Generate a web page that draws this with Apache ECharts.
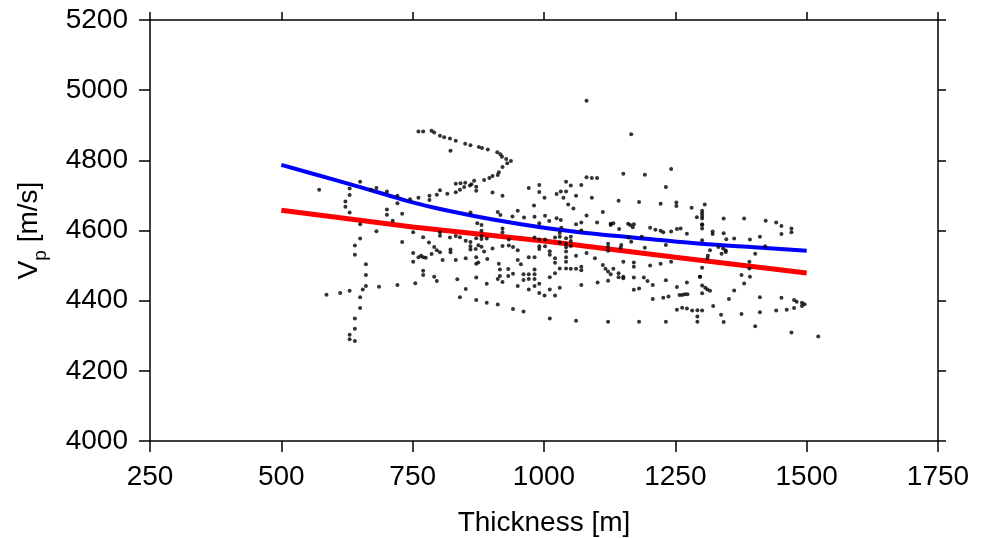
<!DOCTYPE html>
<html>
<head>
<meta charset="utf-8">
<script src="https://cdn.jsdelivr.net/npm/echarts@6/dist/echarts.min.js"></script>
<style>
html,body{margin:0;padding:0;background:#fff;}
#chart{width:986px;height:538px;}
</style>
</head>
<body>
<div id="chart"></div>
<script>
var xTicks = [250, 500, 750, 1000, 1250, 1500, 1750];
var yTicks = [4000, 4200, 4400, 4600, 4800, 5000, 5200];

var blueX = [500, 600, 700, 750, 800, 900, 1000, 1100, 1200, 1300, 1400, 1500];
var blueY = [4787, 4745, 4702, 4680, 4662, 4632, 4608, 4590, 4576, 4562, 4552, 4542];

var redX = [500, 750, 1000, 1250, 1500];
var redY = [4658, 4610, 4570, 4524, 4479];

var wellPoints = [
[572,4716],[650,4739],[630,4720],[671,4716],[681,4721],[701,4711],[721,4699],[721,4678],[745,4689],[761,4693],
[630,4701],[622,4683],[622,4668],[630,4651],[701,4660],[701,4645],[730,4648],[712,4628],[650,4618],[761,4882],
[681,4598],[650,4577],[640,4557],[640,4531],[661,4504],[661,4473],[661,4442],[655,4432],[630,4428],[612,4422],
[586,4417],[686,4440],[721,4445],[755,4450],[650,4410],[650,4379],[640,4349],[640,4320],[630,4303],[630,4290],
[640,4285],[730,4567],[751,4595],[751,4536],[751,4511],[761,4524],
[770,4882],[786,4884],[791,4879],[802,4870],[810,4866],[821,4862],[832,4856],[850,4847],[860,4843],[876,4838],
[882,4835],[893,4831],[911,4823],[917,4817],[920,4810],[928,4804],[937,4798],[930,4792],[921,4781],[914,4766],
[912,4758],[902,4755],[896,4750],[886,4744],[867,4742],[862,4732],[859,4728],[850,4736],[841,4735],[832,4733],
[848,4724],[840,4716],[832,4709],[871,4725],[871,4713],[816,4705],[802,4715],[796,4702],[782,4699],[782,4687],
[822,4827],[902,4708],[921,4699],[971,4721],[991,4730],[991,4710],[1001,4693],[1024,4704],[981,4671],[950,4656],
[912,4653],[917,4644],[860,4651],[873,4621],[940,4640],[962,4637],[982,4639],[1002,4642],[991,4621],[1010,4627],
[1024,4635],
[1081,4970],[1166,4874],[1081,4752],[1091,4750],[1101,4750],[1151,4762],[1192,4759],[1242,4775],[1232,4724],
[1042,4739],[1051,4728],[1071,4730],[1032,4711],[1042,4711],[1037,4693],[1061,4699],[1091,4693],[1046,4674],
[1056,4663],[1112,4653],[1142,4685],[1181,4681],[1222,4676],[1252,4680],[1252,4670],[1281,4665],[1081,4643],
[1032,4630],[1071,4623],[1101,4623],[1127,4619],[1132,4621],[1160,4619],[1171,4618],[1291,4638],[1061,4618],
[1306,4674],[1301,4656],[1301,4649],[1301,4641],[1301,4634],[1301,4618],[1342,4634],[1381,4634],[1422,4628],[1442,4623],
[770,4581],[781,4566],[791,4553],[796,4544],[786,4533],[766,4528],[770,4524],[775,4522],[802,4538],[807,4516],
[822,4546],[822,4538],[832,4516],[851,4521],[860,4555],[860,4546],[870,4547],[875,4558],[881,4554],[886,4540],
[871,4524],[875,4509],[871,4505],[892,4519],[902,4549],[914,4505],[921,4556],[933,4557],[941,4553],[950,4544],
[971,4524],[982,4524],[991,4555],[991,4547],[1002,4555],[1011,4541],[1011,4531],[1021,4521],[1021,4508],[950,4516],
[956,4504],[916,4489],[932,4490],[941,4477],[932,4470],[961,4475],[971,4475],[982,4489],[982,4475],[982,4462],
[971,4462],[961,4459],[991,4448],[982,4442],[971,4432],[991,4422],[1001,4415],[1011,4432],[1021,4415],[1011,4467],
[1021,4478],[950,4442],[921,4453],[912,4462],[916,4470],[891,4448],[871,4466],[851,4433],[840,4410],[835,4461],
[796,4456],[791,4468],[770,4485],[770,4473],[871,4402],[891,4394],[912,4389],[941,4376],[961,4369],[1011,4349],
[802,4595],[802,4585],[832,4584],[840,4581],[821,4580],[851,4571],[860,4567],[871,4578],[881,4584],[881,4576],
[891,4577],[881,4616],[881,4599],[921,4606],[921,4595],[933,4574],[982,4580],[991,4574],[1002,4574],[1021,4580],
[1030,4566],
[1030,4582],[1042,4578],[1051,4570],[1042,4562],[1042,4552],[1042,4540],[1042,4524],[1042,4511],[1042,4492],[1030,4492],
[1051,4491],[1061,4491],[1071,4497],[1071,4487],[1081,4536],[1061,4528],[1097,4521],[1112,4502],[1117,4491],[1122,4483],
[1127,4475],[1132,4491],[1142,4478],[1142,4467],[1151,4468],[1151,4464],[1122,4457],[1102,4452],[1071,4445],[1030,4437],
[1171,4497],[1171,4509],[1151,4511],[1171,4466],[1190,4466],[1197,4456],[1207,4445],[1202,4500],[1222,4505],[1232,4458],
[1242,4511],[1181,4435],[1171,4431],[1207,4405],[1227,4408],[1237,4412],[1258,4416],[1263,4416],[1268,4418],[1273,4418],
[1253,4374],[1263,4380],[1272,4378],[1282,4372],[1292,4373],[1292,4355],[1292,4340],[1061,4343],[1122,4340],[1181,4340],
[1232,4340],[1297,4468],[1272,4452],[1253,4439],[1051,4556],[1051,4582],[1127,4616],[1143,4604],[1164,4616],[1169,4609],
[1202,4608],[1212,4602],[1222,4599],[1227,4595],[1242,4597],[1253,4604],[1260,4606],[1272,4591],[1033,4608],[1071,4600],
[1030,4593],[1166,4568],[1186,4582],[1161,4580],[1147,4559],[1122,4562],[1122,4553],[1122,4542],[1192,4551],[1232,4559],
[1146,4551],
[1301,4616],[1301,4606],[1321,4597],[1321,4590],[1342,4592],[1347,4575],[1362,4577],[1392,4574],[1411,4582],[1452,4613],
[1452,4590],[1471,4606],[1471,4595],[1301,4572],[1316,4544],[1332,4553],[1341,4549],[1346,4543],[1346,4539],[1338,4534],
[1312,4528],[1311,4520],[1421,4555],[1402,4534],[1391,4511],[1391,4492],[1392,4468],[1376,4473],[1381,4449],[1301,4494],
[1297,4468],[1301,4443],[1307,4437],[1311,4432],[1316,4428],[1301,4421],[1362,4429],[1352,4405],[1322,4385],[1301,4372],
[1337,4360],[1342,4339],[1376,4362],[1402,4327],[1411,4410],[1411,4367],[1442,4372],[1452,4408],[1462,4374],[1476,4402],
[1481,4397],[1476,4379],[1491,4394],[1496,4390],[1491,4385],[1471,4309],[1522,4298]
];

function zip(a, b) { return a.map(function (v, i) { return [v, b[i]]; }); }
function plain(v) { return String(v); }

var FONT = 'Liberation Sans, Arial, Helvetica, sans-serif';
var axisLineStyle = { color: '#000', width: 1.5 };

var chart = echarts.init(document.getElementById('chart'), null, { renderer: 'canvas' });
chart.setOption({
  animation: false,
  backgroundColor: '#fff',
  grid: { left: 150, right: 48, top: 20, bottom: 97, containLabel: false, outerBoundsMode: 'none' },
  xAxis: [{
    type: 'value', position: 'bottom', min: xTicks[0], max: xTicks[xTicks.length - 1], interval: 250,
    axisLine: { show: true, lineStyle: axisLineStyle },
    axisTick: { show: true, inside: false, length: 11, lineStyle: axisLineStyle },
    axisLabel: { color: '#000', fontSize: 28, fontFamily: FONT, margin: 22, formatter: plain },
    splitLine: { show: false },
    name: 'Thickness [m]', nameLocation: 'middle', nameGap: 68,
    nameTextStyle: { color: '#000', fontSize: 28, fontFamily: FONT }
  }, {
    type: 'value', position: 'top', min: xTicks[0], max: xTicks[xTicks.length - 1], interval: 250,
    axisLine: { show: true, lineStyle: axisLineStyle },
    axisTick: { show: true, inside: false, length: 8, lineStyle: axisLineStyle },
    axisLabel: { show: false }, splitLine: { show: false }
  }],
  yAxis: [{
    type: 'value', position: 'left', min: yTicks[0], max: yTicks[yTicks.length - 1], interval: 200,
    axisLine: { show: true, lineStyle: axisLineStyle },
    axisTick: { show: true, inside: false, length: 11, lineStyle: axisLineStyle },
    axisLabel: { color: '#000', fontSize: 28, fontFamily: FONT, margin: 22, formatter: plain },
    splitLine: { show: false },
    name: '{v|V}{s|p}{v| [m/s]}', nameLocation: 'middle', nameGap: 107, nameRotate: 90,
    nameTextStyle: {
      color: '#000', fontFamily: FONT,
      rich: {
        v: { fontSize: 28, fontFamily: FONT, color: '#000', lineHeight: 28, verticalAlign: 'top' },
        s: { fontSize: 19, fontFamily: FONT, color: '#000', lineHeight: 19, padding: [16, 0, 0, 0], verticalAlign: 'top' }
      }
    }
  }, {
    type: 'value', position: 'right', min: yTicks[0], max: yTicks[yTicks.length - 1], interval: 200,
    axisLine: { show: true, lineStyle: axisLineStyle },
    axisTick: { show: true, inside: false, length: 8, lineStyle: axisLineStyle },
    axisLabel: { show: false }, splitLine: { show: false }
  }],
  series: [{
    type: 'line', data: zip(redX, redY), showSymbol: false, symbol: 'none',
    lineStyle: { color: '#ff0000', width: 5 }, z: 2
  }, {
    type: 'line', data: zip(blueX, blueY), showSymbol: false, symbol: 'none', smooth: 0.3,
    lineStyle: { color: '#0000ff', width: 4 }, z: 3
  }, {
    type: 'scatter', data: wellPoints, symbol: 'circle', symbolSize: 4,
    itemStyle: { color: '#000' }, z: 4
  }]
});
</script>
</body>
</html>
